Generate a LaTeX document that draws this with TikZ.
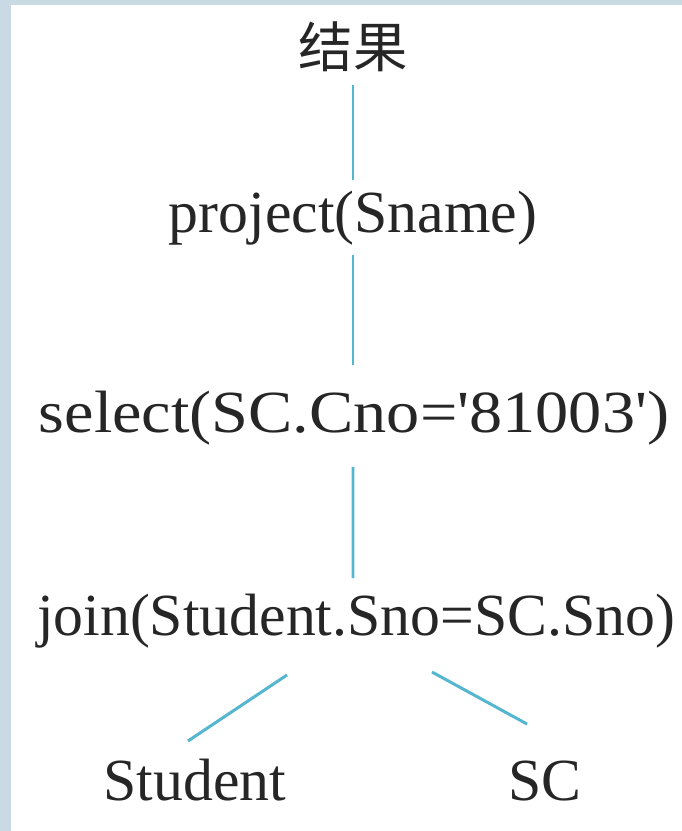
\documentclass[tikz,border=0pt]{standalone}
\usepackage{fontspec}
\setmainfont{Liberation Serif}
\newfontfamily\cjk{Noto Sans CJK SC}
\definecolor{frameblue}{HTML}{C9DAE4}
\definecolor{edgeblue}{HTML}{55B6D0}
\begin{document}
\begin{tikzpicture}[x=0.02cm,y=-0.02cm,
  lbl/.style={inner sep=0pt,outer sep=0pt,anchor=base,font=\fontsize{34}{40}\selectfont,text=black!85},
  cjklbl/.style={inner sep=0pt,outer sep=0pt,font=\cjk\fontsize{31}{36}\selectfont,text=black!85},
  edge/.style={draw=edgeblue,line width=1.7pt}]
  % background frame
  \fill[frameblue] (0,0) rectangle (682,831);
  \fill[white] (11,5) rectangle (682,831);
  \useasboundingbox (0,0) rectangle (682,831);
  % nodes
  \node[cjklbl] (res) at (353,47) {结果};
  \node[lbl] (proj) at (353,233) {project(Sname)};
  \node[lbl,xscale=1.11] (sel) at (354,432) {select(SC.Cno=\textquotesingle 81003\textquotesingle)};
  \node[lbl] (join) at (356,635) {join(Student.Sno=SC.Sno)};
  \node[lbl] (stu) at (195,800) {Student};
  \node[lbl] (sc) at (545,800) {SC};
  % connectors
  \draw[edge] ([yshift=-0.76cm]res.center) -- ([yshift=1.06cm]proj.base);
  \draw[edge] ([yshift=-0.44cm]proj.base) -- ([xshift=-0.02cm,yshift=1.34cm]sel.base);
  \draw[edge] ([xshift=-0.02cm,yshift=-0.7cm]sel.base) -- ([xshift=-0.06cm,yshift=1.14cm]join.base);
  \draw[edge] ([xshift=-1.38cm,yshift=-0.8cm]join.base) -- ([xshift=-0.14cm,yshift=1.18cm]stu.base);
  \draw[edge] ([xshift=1.52cm,yshift=-0.74cm]join.base) -- ([xshift=-0.36cm,yshift=1.52cm]sc.base);
\end{tikzpicture}
\end{document}
